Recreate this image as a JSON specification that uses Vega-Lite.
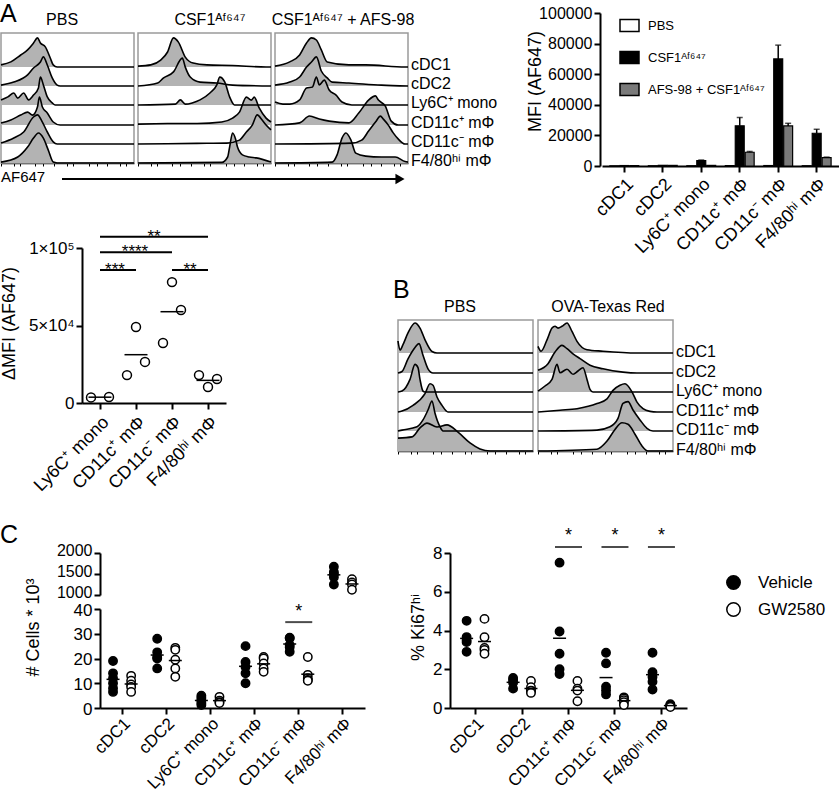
{
"$schema":"https://vega.github.io/schema/vega-lite/v6.json",
"width":839,"height":794,"autosize":{"type":"none"},"padding":0,
"config":{"view":{"stroke":null},"font":"Liberation Sans",
"axis":{"grid":false,"domainColor":"black","domainWidth":2,"tickColor":"black","tickWidth":2,"tickSize":6,"labelColor":"black","labelFontSize":17,"titleFontSize":18,"titleFontWeight":"normal","titleColor":"black","labelFont":"Liberation Sans","titleFont":"Liberation Sans"},
"legend":{"labelFont":"Liberation Sans","labelFontSize":16,"labelColor":"black"},
"text":{"font":"Liberation Sans","color":"black"}},
"datasets":{
"hist":[
{"h":"A1-1","fl":0,"n":7},{"h":"A1-1","fl":10,"n":17},{"h":"A1-1","fl":20,"n":40},{"h":"A1-1","fl":27,"n":57},{"h":"A1-1","fl":33,"n":80},{"h":"A1-1","fl":37,"n":97},{"h":"A1-1","fl":40,"n":80},{"h":"A1-1","fl":45,"n":67},{"h":"A1-1","fl":50,"n":30},{"h":"A1-1","fl":53,"n":7},{"h":"A1-1","fl":57,"n":0},{"h":"A1-1","fl":135,"n":0},
{"h":"A1-2","fl":0,"n":3},{"h":"A1-2","fl":13,"n":13},{"h":"A1-2","fl":27,"n":37},{"h":"A1-2","fl":33,"n":60},{"h":"A1-2","fl":40,"n":80},{"h":"A1-2","fl":43,"n":97},{"h":"A1-2","fl":47,"n":70},{"h":"A1-2","fl":52,"n":27},{"h":"A1-2","fl":57,"n":3},{"h":"A1-2","fl":60,"n":0},{"h":"A1-2","fl":135,"n":0},
{"h":"A1-3","fl":0,"n":17},{"h":"A1-3","fl":7,"n":27},{"h":"A1-3","fl":13,"n":40},{"h":"A1-3","fl":17,"n":23},{"h":"A1-3","fl":23,"n":40},{"h":"A1-3","fl":28,"n":17},{"h":"A1-3","fl":33,"n":33},{"h":"A1-3","fl":38,"n":57},{"h":"A1-3","fl":40,"n":93},{"h":"A1-3","fl":43,"n":67},{"h":"A1-3","fl":47,"n":27},{"h":"A1-3","fl":52,"n":7},{"h":"A1-3","fl":55,"n":0},{"h":"A1-3","fl":135,"n":0},
{"h":"A1-4","fl":0,"n":7},{"h":"A1-4","fl":10,"n":17},{"h":"A1-4","fl":20,"n":33},{"h":"A1-4","fl":27,"n":43},{"h":"A1-4","fl":32,"n":33},{"h":"A1-4","fl":37,"n":60},{"h":"A1-4","fl":39,"n":93},{"h":"A1-4","fl":42,"n":60},{"h":"A1-4","fl":47,"n":40},{"h":"A1-4","fl":53,"n":10},{"h":"A1-4","fl":60,"n":0},{"h":"A1-4","fl":135,"n":0},
{"h":"A1-5","fl":0,"n":3},{"h":"A1-5","fl":13,"n":20},{"h":"A1-5","fl":23,"n":40},{"h":"A1-5","fl":33,"n":90},{"h":"A1-5","fl":37,"n":97},{"h":"A1-5","fl":42,"n":73},{"h":"A1-5","fl":47,"n":40},{"h":"A1-5","fl":53,"n":7},{"h":"A1-5","fl":57,"n":0},{"h":"A1-5","fl":135,"n":0},
{"h":"A1-6","fl":0,"n":3},{"h":"A1-6","fl":17,"n":20},{"h":"A1-6","fl":27,"n":53},{"h":"A1-6","fl":33,"n":83},{"h":"A1-6","fl":38,"n":100},{"h":"A1-6","fl":43,"n":83},{"h":"A1-6","fl":48,"n":43},{"h":"A1-6","fl":53,"n":3},{"h":"A1-6","fl":57,"n":0},{"h":"A1-6","fl":135,"n":0},
{"h":"A2-1","fl":0,"n":3},{"h":"A2-1","fl":13,"n":7},{"h":"A2-1","fl":23,"n":23},{"h":"A2-1","fl":30,"n":50},{"h":"A2-1","fl":36,"n":97},{"h":"A2-1","fl":41,"n":83},{"h":"A2-1","fl":48,"n":33},{"h":"A2-1","fl":56,"n":13},{"h":"A2-1","fl":70,"n":7},{"h":"A2-1","fl":96,"n":5},{"h":"A2-1","fl":130,"n":0},{"h":"A2-1","fl":135,"n":0},
{"h":"A2-2","fl":0,"n":0},{"h":"A2-2","fl":20,"n":10},{"h":"A2-2","fl":26,"n":27},{"h":"A2-2","fl":36,"n":47},{"h":"A2-2","fl":45,"n":93},{"h":"A2-2","fl":48,"n":63},{"h":"A2-2","fl":53,"n":30},{"h":"A2-2","fl":63,"n":13},{"h":"A2-2","fl":80,"n":10},{"h":"A2-2","fl":96,"n":3},{"h":"A2-2","fl":135,"n":0},
{"h":"A2-3","fl":0,"n":0},{"h":"A2-3","fl":38,"n":3},{"h":"A2-3","fl":43,"n":17},{"h":"A2-3","fl":48,"n":3},{"h":"A2-3","fl":55,"n":7},{"h":"A2-3","fl":63,"n":17},{"h":"A2-3","fl":73,"n":40},{"h":"A2-3","fl":80,"n":67},{"h":"A2-3","fl":83,"n":93},{"h":"A2-3","fl":88,"n":77},{"h":"A2-3","fl":93,"n":27},{"h":"A2-3","fl":98,"n":0},{"h":"A2-3","fl":135,"n":0},
{"h":"A2-4","fl":0,"n":3},{"h":"A2-4","fl":30,"n":5},{"h":"A2-4","fl":60,"n":5},{"h":"A2-4","fl":85,"n":10},{"h":"A2-4","fl":96,"n":23},{"h":"A2-4","fl":103,"n":43},{"h":"A2-4","fl":110,"n":93},{"h":"A2-4","fl":115,"n":83},{"h":"A2-4","fl":118,"n":93},{"h":"A2-4","fl":123,"n":57},{"h":"A2-4","fl":130,"n":23},{"h":"A2-4","fl":135,"n":10},
{"h":"A2-5","fl":0,"n":0},{"h":"A2-5","fl":60,"n":2},{"h":"A2-5","fl":90,"n":3},{"h":"A2-5","fl":103,"n":13},{"h":"A2-5","fl":110,"n":40},{"h":"A2-5","fl":116,"n":63},{"h":"A2-5","fl":121,"n":97},{"h":"A2-5","fl":126,"n":80},{"h":"A2-5","fl":130,"n":63},{"h":"A2-5","fl":135,"n":47},
{"h":"A2-6","fl":0,"n":0},{"h":"A2-6","fl":85,"n":2},{"h":"A2-6","fl":91,"n":20},{"h":"A2-6","fl":93,"n":53},{"h":"A2-6","fl":96,"n":100},{"h":"A2-6","fl":99,"n":80},{"h":"A2-6","fl":101,"n":53},{"h":"A2-6","fl":106,"n":27},{"h":"A2-6","fl":113,"n":20},{"h":"A2-6","fl":120,"n":17},{"h":"A2-6","fl":135,"n":3},
{"h":"A3-1","fl":0,"n":3},{"h":"A3-1","fl":15,"n":17},{"h":"A3-1","fl":25,"n":40},{"h":"A3-1","fl":32,"n":80},{"h":"A3-1","fl":37,"n":97},{"h":"A3-1","fl":42,"n":90},{"h":"A3-1","fl":47,"n":57},{"h":"A3-1","fl":53,"n":17},{"h":"A3-1","fl":75,"n":7},{"h":"A3-1","fl":92,"n":7},{"h":"A3-1","fl":132,"n":0},{"h":"A3-1","fl":135,"n":0},
{"h":"A3-2","fl":0,"n":3},{"h":"A3-2","fl":15,"n":13},{"h":"A3-2","fl":25,"n":30},{"h":"A3-2","fl":32,"n":63},{"h":"A3-2","fl":37,"n":80},{"h":"A3-2","fl":42,"n":97},{"h":"A3-2","fl":47,"n":50},{"h":"A3-2","fl":53,"n":27},{"h":"A3-2","fl":58,"n":13},{"h":"A3-2","fl":75,"n":10},{"h":"A3-2","fl":108,"n":3},{"h":"A3-2","fl":135,"n":0},
{"h":"A3-3","fl":0,"n":10},{"h":"A3-3","fl":8,"n":3},{"h":"A3-3","fl":15,"n":3},{"h":"A3-3","fl":25,"n":17},{"h":"A3-3","fl":32,"n":57},{"h":"A3-3","fl":38,"n":60},{"h":"A3-3","fl":42,"n":93},{"h":"A3-3","fl":45,"n":67},{"h":"A3-3","fl":50,"n":83},{"h":"A3-3","fl":55,"n":50},{"h":"A3-3","fl":62,"n":33},{"h":"A3-3","fl":68,"n":10},{"h":"A3-3","fl":78,"n":0},{"h":"A3-3","fl":135,"n":0},
{"h":"A3-4","fl":0,"n":0},{"h":"A3-4","fl":25,"n":7},{"h":"A3-4","fl":35,"n":30},{"h":"A3-4","fl":45,"n":20},{"h":"A3-4","fl":55,"n":13},{"h":"A3-4","fl":75,"n":7},{"h":"A3-4","fl":85,"n":40},{"h":"A3-4","fl":95,"n":83},{"h":"A3-4","fl":102,"n":97},{"h":"A3-4","fl":105,"n":83},{"h":"A3-4","fl":112,"n":63},{"h":"A3-4","fl":118,"n":13},{"h":"A3-4","fl":125,"n":0},{"h":"A3-4","fl":135,"n":0},
{"h":"A3-5","fl":0,"n":0},{"h":"A3-5","fl":78,"n":3},{"h":"A3-5","fl":88,"n":13},{"h":"A3-5","fl":95,"n":43},{"h":"A3-5","fl":102,"n":73},{"h":"A3-5","fl":107,"n":93},{"h":"A3-5","fl":110,"n":83},{"h":"A3-5","fl":115,"n":63},{"h":"A3-5","fl":120,"n":37},{"h":"A3-5","fl":125,"n":17},{"h":"A3-5","fl":132,"n":0},{"h":"A3-5","fl":135,"n":0},
{"h":"A3-6","fl":0,"n":0},{"h":"A3-6","fl":58,"n":3},{"h":"A3-6","fl":63,"n":27},{"h":"A3-6","fl":68,"n":83},{"h":"A3-6","fl":72,"n":100},{"h":"A3-6","fl":77,"n":77},{"h":"A3-6","fl":82,"n":33},{"h":"A3-6","fl":92,"n":23},{"h":"A3-6","fl":108,"n":20},{"h":"A3-6","fl":122,"n":20},{"h":"A3-6","fl":132,"n":5},{"h":"A3-6","fl":135,"n":3},
{"h":"B1-1","fl":0,"n":40},{"h":"B1-1","fl":2,"n":10},{"h":"B1-1","fl":5,"n":28},{"h":"B1-1","fl":10,"n":67},{"h":"B1-1","fl":17,"n":100},{"h":"B1-1","fl":22,"n":83},{"h":"B1-1","fl":27,"n":44},{"h":"B1-1","fl":34,"n":5},{"h":"B1-1","fl":39,"n":0},{"h":"B1-1","fl":135,"n":0},
{"h":"B1-2","fl":0,"n":0},{"h":"B1-2","fl":4,"n":5},{"h":"B1-2","fl":10,"n":47},{"h":"B1-2","fl":17,"n":85},{"h":"B1-2","fl":21,"n":98},{"h":"B1-2","fl":25,"n":59},{"h":"B1-2","fl":30,"n":14},{"h":"B1-2","fl":35,"n":0},{"h":"B1-2","fl":135,"n":0},
{"h":"B1-3","fl":0,"n":0},{"h":"B1-3","fl":4,"n":3},{"h":"B1-3","fl":12,"n":42},{"h":"B1-3","fl":17,"n":92},{"h":"B1-3","fl":20,"n":81},{"h":"B1-3","fl":22,"n":42},{"h":"B1-3","fl":25,"n":3},{"h":"B1-3","fl":27,"n":0},{"h":"B1-3","fl":135,"n":0},
{"h":"B1-4","fl":0,"n":0},{"h":"B1-4","fl":4,"n":3},{"h":"B1-4","fl":15,"n":22},{"h":"B1-4","fl":27,"n":61},{"h":"B1-4","fl":32,"n":94},{"h":"B1-4","fl":35,"n":89},{"h":"B1-4","fl":39,"n":50},{"h":"B1-4","fl":44,"n":22},{"h":"B1-4","fl":50,"n":0},{"h":"B1-4","fl":135,"n":0},
{"h":"B1-5","fl":0,"n":0},{"h":"B1-5","fl":4,"n":3},{"h":"B1-5","fl":19,"n":14},{"h":"B1-5","fl":25,"n":37},{"h":"B1-5","fl":30,"n":70},{"h":"B1-5","fl":34,"n":100},{"h":"B1-5","fl":37,"n":59},{"h":"B1-5","fl":42,"n":14},{"h":"B1-5","fl":45,"n":0},{"h":"B1-5","fl":135,"n":0},
{"h":"B1-6","fl":0,"n":43},{"h":"B1-6","fl":14,"n":47},{"h":"B1-6","fl":22,"n":77},{"h":"B1-6","fl":29,"n":93},{"h":"B1-6","fl":39,"n":80},{"h":"B1-6","fl":49,"n":87},{"h":"B1-6","fl":60,"n":63},{"h":"B1-6","fl":72,"n":27},{"h":"B1-6","fl":82,"n":7},{"h":"B1-6","fl":92,"n":0},{"h":"B1-6","fl":135,"n":0},
{"h":"B2-1","fl":0,"n":22},{"h":"B2-1","fl":3,"n":6},{"h":"B2-1","fl":9,"n":44},{"h":"B2-1","fl":14,"n":83},{"h":"B2-1","fl":17,"n":89},{"h":"B2-1","fl":20,"n":83},{"h":"B2-1","fl":24,"n":89},{"h":"B2-1","fl":29,"n":100},{"h":"B2-1","fl":34,"n":72},{"h":"B2-1","fl":39,"n":39},{"h":"B2-1","fl":49,"n":11},{"h":"B2-1","fl":65,"n":6},{"h":"B2-1","fl":99,"n":0},{"h":"B2-1","fl":135,"n":0},
{"h":"B2-2","fl":0,"n":9},{"h":"B2-2","fl":10,"n":31},{"h":"B2-2","fl":17,"n":70},{"h":"B2-2","fl":24,"n":92},{"h":"B2-2","fl":29,"n":81},{"h":"B2-2","fl":35,"n":64},{"h":"B2-2","fl":42,"n":48},{"h":"B2-2","fl":52,"n":26},{"h":"B2-2","fl":65,"n":14},{"h":"B2-2","fl":85,"n":3},{"h":"B2-2","fl":99,"n":0},{"h":"B2-2","fl":135,"n":0},
{"h":"B2-3","fl":0,"n":3},{"h":"B2-3","fl":7,"n":20},{"h":"B2-3","fl":14,"n":42},{"h":"B2-3","fl":19,"n":92},{"h":"B2-3","fl":22,"n":64},{"h":"B2-3","fl":29,"n":76},{"h":"B2-3","fl":35,"n":59},{"h":"B2-3","fl":40,"n":70},{"h":"B2-3","fl":45,"n":81},{"h":"B2-3","fl":49,"n":42},{"h":"B2-3","fl":52,"n":9},{"h":"B2-3","fl":55,"n":0},{"h":"B2-3","fl":135,"n":0},
{"h":"B2-4","fl":0,"n":0},{"h":"B2-4","fl":22,"n":6},{"h":"B2-4","fl":39,"n":11},{"h":"B2-4","fl":59,"n":28},{"h":"B2-4","fl":69,"n":44},{"h":"B2-4","fl":75,"n":72},{"h":"B2-4","fl":82,"n":89},{"h":"B2-4","fl":87,"n":94},{"h":"B2-4","fl":94,"n":67},{"h":"B2-4","fl":99,"n":33},{"h":"B2-4","fl":105,"n":11},{"h":"B2-4","fl":112,"n":2},{"h":"B2-4","fl":119,"n":0},{"h":"B2-4","fl":135,"n":0},
{"h":"B2-5","fl":0,"n":0},{"h":"B2-5","fl":59,"n":3},{"h":"B2-5","fl":72,"n":14},{"h":"B2-5","fl":80,"n":42},{"h":"B2-5","fl":85,"n":92},{"h":"B2-5","fl":90,"n":98},{"h":"B2-5","fl":95,"n":70},{"h":"B2-5","fl":102,"n":37},{"h":"B2-5","fl":109,"n":9},{"h":"B2-5","fl":115,"n":0},{"h":"B2-5","fl":135,"n":0},
{"h":"B2-6","fl":0,"n":0},{"h":"B2-6","fl":59,"n":6},{"h":"B2-6","fl":69,"n":33},{"h":"B2-6","fl":77,"n":72},{"h":"B2-6","fl":84,"n":94},{"h":"B2-6","fl":90,"n":89},{"h":"B2-6","fl":97,"n":56},{"h":"B2-6","fl":104,"n":17},{"h":"B2-6","fl":110,"n":0},{"h":"B2-6","fl":135,"n":0}
],
"mfi":[
{"cell":"cDC1","group":"PBS","mfi":150,"upper":null},{"cell":"cDC1","group":"CSF1ᴬᶠ⁶⁴⁷","mfi":300,"upper":null},{"cell":"cDC1","group":"AFS-98 + CSF1ᴬᶠ⁶⁴⁷","mfi":250,"upper":null},
{"cell":"cDC2","group":"PBS","mfi":200,"upper":null},{"cell":"cDC2","group":"CSF1ᴬᶠ⁶⁴⁷","mfi":450,"upper":null},{"cell":"cDC2","group":"AFS-98 + CSF1ᴬᶠ⁶⁴⁷","mfi":400,"upper":null},
{"cell":"Ly6C⁺ mono","group":"PBS","mfi":200,"upper":null},{"cell":"Ly6C⁺ mono","group":"CSF1ᴬᶠ⁶⁴⁷","mfi":3500,"upper":3900},{"cell":"Ly6C⁺ mono","group":"AFS-98 + CSF1ᴬᶠ⁶⁴⁷","mfi":400,"upper":null},
{"cell":"CD11c⁺ mΦ","group":"PBS","mfi":250,"upper":null},{"cell":"CD11c⁺ mΦ","group":"CSF1ᴬᶠ⁶⁴⁷","mfi":26300,"upper":31700},{"cell":"CD11c⁺ mΦ","group":"AFS-98 + CSF1ᴬᶠ⁶⁴⁷","mfi":9000,"upper":9500},
{"cell":"CD11c⁻ mΦ","group":"PBS","mfi":300,"upper":null},{"cell":"CD11c⁻ mΦ","group":"CSF1ᴬᶠ⁶⁴⁷","mfi":70000,"upper":79000},{"cell":"CD11c⁻ mΦ","group":"AFS-98 + CSF1ᴬᶠ⁶⁴⁷","mfi":26200,"upper":27900},
{"cell":"F4/80ʰⁱ mΦ","group":"PBS","mfi":200,"upper":null},{"cell":"F4/80ʰⁱ mΦ","group":"CSF1ᴬᶠ⁶⁴⁷","mfi":21400,"upper":24000},{"cell":"F4/80ʰⁱ mΦ","group":"AFS-98 + CSF1ᴬᶠ⁶⁴⁷","mfi":5500,"upper":5800}
],
"dmfi":[
{"cell":"Ly6C⁺ mono","mouse":"1","v":3600},{"cell":"Ly6C⁺ mono","mouse":"3","v":3900},
{"cell":"CD11c⁺ mΦ","mouse":"1","v":18000},{"cell":"CD11c⁺ mΦ","mouse":"2","v":49000},{"cell":"CD11c⁺ mΦ","mouse":"3","v":26500},
{"cell":"CD11c⁻ mΦ","mouse":"1","v":38700},{"cell":"CD11c⁻ mΦ","mouse":"2","v":78000},{"cell":"CD11c⁻ mΦ","mouse":"3","v":60000},
{"cell":"F4/80ʰⁱ mΦ","mouse":"1","v":18000},{"cell":"F4/80ʰⁱ mΦ","mouse":"2","v":10300},{"cell":"F4/80ʰⁱ mΦ","mouse":"3","v":15500}
],
"cells":[
{"cell":"cDC1","trt":"Vehicle","v":19},{"cell":"cDC1","trt":"Vehicle","v":14},{"cell":"cDC1","trt":"Vehicle","v":12},{"cell":"cDC1","trt":"Vehicle","v":10},{"cell":"cDC1","trt":"Vehicle","v":8},{"cell":"cDC1","trt":"Vehicle","v":6.5},
{"cell":"cDC1","trt":"GW2580","v":13},{"cell":"cDC1","trt":"GW2580","v":11},{"cell":"cDC1","trt":"GW2580","v":9.5},{"cell":"cDC1","trt":"GW2580","v":8.5},{"cell":"cDC1","trt":"GW2580","v":6.5},
{"cell":"cDC2","trt":"Vehicle","v":28},{"cell":"cDC2","trt":"Vehicle","v":22.5},{"cell":"cDC2","trt":"Vehicle","v":20.5},{"cell":"cDC2","trt":"Vehicle","v":20},{"cell":"cDC2","trt":"Vehicle","v":16},
{"cell":"cDC2","trt":"GW2580","v":24.3},{"cell":"cDC2","trt":"GW2580","v":23.5},{"cell":"cDC2","trt":"GW2580","v":19.5},{"cell":"cDC2","trt":"GW2580","v":16},{"cell":"cDC2","trt":"GW2580","v":12.6},
{"cell":"Ly6C⁺ mono","trt":"Vehicle","v":5},{"cell":"Ly6C⁺ mono","trt":"Vehicle","v":4},{"cell":"Ly6C⁺ mono","trt":"Vehicle","v":3},{"cell":"Ly6C⁺ mono","trt":"Vehicle","v":2},{"cell":"Ly6C⁺ mono","trt":"Vehicle","v":1.2},
{"cell":"Ly6C⁺ mono","trt":"GW2580","v":4.5},{"cell":"Ly6C⁺ mono","trt":"GW2580","v":3},{"cell":"Ly6C⁺ mono","trt":"GW2580","v":2.4},{"cell":"Ly6C⁺ mono","trt":"GW2580","v":2},
{"cell":"CD11c⁺ mΦ","trt":"Vehicle","v":25},{"cell":"CD11c⁺ mΦ","trt":"Vehicle","v":18.6},{"cell":"CD11c⁺ mΦ","trt":"Vehicle","v":16.6},{"cell":"CD11c⁺ mΦ","trt":"Vehicle","v":14},{"cell":"CD11c⁺ mΦ","trt":"Vehicle","v":10},
{"cell":"CD11c⁺ mΦ","trt":"GW2580","v":20.6},{"cell":"CD11c⁺ mΦ","trt":"GW2580","v":20},{"cell":"CD11c⁺ mΦ","trt":"GW2580","v":18},{"cell":"CD11c⁺ mΦ","trt":"GW2580","v":16},{"cell":"CD11c⁺ mΦ","trt":"GW2580","v":14.6},
{"cell":"CD11c⁻ mΦ","trt":"Vehicle","v":28.4},{"cell":"CD11c⁻ mΦ","trt":"Vehicle","v":28.2},{"cell":"CD11c⁻ mΦ","trt":"Vehicle","v":25.5},{"cell":"CD11c⁻ mΦ","trt":"Vehicle","v":24.5},{"cell":"CD11c⁻ mΦ","trt":"Vehicle","v":22.7},
{"cell":"CD11c⁻ mΦ","trt":"GW2580","v":20.6},{"cell":"CD11c⁻ mΦ","trt":"GW2580","v":13.4},{"cell":"CD11c⁻ mΦ","trt":"GW2580","v":12},{"cell":"CD11c⁻ mΦ","trt":"GW2580","v":11.3},{"cell":"CD11c⁻ mΦ","trt":"GW2580","v":11},
{"cell":"F4/80ʰⁱ mΦ","trt":"Vehicle","v":1675},{"cell":"F4/80ʰⁱ mΦ","trt":"Vehicle","v":1550},{"cell":"F4/80ʰⁱ mΦ","trt":"Vehicle","v":1500},{"cell":"F4/80ʰⁱ mΦ","trt":"Vehicle","v":1425},{"cell":"F4/80ʰⁱ mΦ","trt":"Vehicle","v":1250},
{"cell":"F4/80ʰⁱ mΦ","trt":"GW2580","v":1375},{"cell":"F4/80ʰⁱ mΦ","trt":"GW2580","v":1300},{"cell":"F4/80ʰⁱ mΦ","trt":"GW2580","v":1250},{"cell":"F4/80ʰⁱ mΦ","trt":"GW2580","v":1125}
],
"ki67":[
{"cell":"cDC1","trt":"Vehicle","v":4.5},{"cell":"cDC1","trt":"Vehicle","v":3.66},{"cell":"cDC1","trt":"Vehicle","v":3.5},{"cell":"cDC1","trt":"Vehicle","v":3.4},{"cell":"cDC1","trt":"Vehicle","v":2.9},
{"cell":"cDC1","trt":"GW2580","v":4.6},{"cell":"cDC1","trt":"GW2580","v":3.65},{"cell":"cDC1","trt":"GW2580","v":3.1},{"cell":"cDC1","trt":"GW2580","v":3.0},{"cell":"cDC1","trt":"GW2580","v":2.8},
{"cell":"cDC2","trt":"Vehicle","v":1.55},{"cell":"cDC2","trt":"Vehicle","v":1.45},{"cell":"cDC2","trt":"Vehicle","v":1.3},{"cell":"cDC2","trt":"Vehicle","v":1.0},
{"cell":"cDC2","trt":"GW2580","v":1.4},{"cell":"cDC2","trt":"GW2580","v":1.07},{"cell":"cDC2","trt":"GW2580","v":0.9},{"cell":"cDC2","trt":"GW2580","v":0.88},{"cell":"cDC2","trt":"GW2580","v":0.78},
{"cell":"CD11c⁺ mΦ","trt":"Vehicle","v":7.5},{"cell":"CD11c⁺ mΦ","trt":"Vehicle","v":3.95},{"cell":"CD11c⁺ mΦ","trt":"Vehicle","v":2.8},{"cell":"CD11c⁺ mΦ","trt":"Vehicle","v":2.0},{"cell":"CD11c⁺ mΦ","trt":"Vehicle","v":1.75},
{"cell":"CD11c⁺ mΦ","trt":"GW2580","v":1.4},{"cell":"CD11c⁺ mΦ","trt":"GW2580","v":1.0},{"cell":"CD11c⁺ mΦ","trt":"GW2580","v":0.9},{"cell":"CD11c⁺ mΦ","trt":"GW2580","v":0.35},
{"cell":"CD11c⁻ mΦ","trt":"Vehicle","v":2.85},{"cell":"CD11c⁻ mΦ","trt":"Vehicle","v":2.3},{"cell":"CD11c⁻ mΦ","trt":"Vehicle","v":1.1},{"cell":"CD11c⁻ mΦ","trt":"Vehicle","v":0.9},{"cell":"CD11c⁻ mΦ","trt":"Vehicle","v":0.7},
{"cell":"CD11c⁻ mΦ","trt":"GW2580","v":0.55},{"cell":"CD11c⁻ mΦ","trt":"GW2580","v":0.5},{"cell":"CD11c⁻ mΦ","trt":"GW2580","v":0.4},{"cell":"CD11c⁻ mΦ","trt":"GW2580","v":0.3},{"cell":"CD11c⁻ mΦ","trt":"GW2580","v":0.15},
{"cell":"F4/80ʰⁱ mΦ","trt":"Vehicle","v":2.85},{"cell":"F4/80ʰⁱ mΦ","trt":"Vehicle","v":1.85},{"cell":"F4/80ʰⁱ mΦ","trt":"Vehicle","v":1.6},{"cell":"F4/80ʰⁱ mΦ","trt":"Vehicle","v":1.35},{"cell":"F4/80ʰⁱ mΦ","trt":"Vehicle","v":0.95},
{"cell":"F4/80ʰⁱ mΦ","trt":"GW2580","v":0.2},{"cell":"F4/80ʰⁱ mΦ","trt":"GW2580","v":0.15},{"cell":"F4/80ʰⁱ mΦ","trt":"GW2580","v":0.12},{"cell":"F4/80ʰⁱ mΦ","trt":"GW2580","v":0.1},{"cell":"F4/80ʰⁱ mΦ","trt":"GW2580","v":0.05}
]
},
"layer":[
{"layer":[
 {"data":{"values":[{}]},"layer":[
  {"mark":{"type":"rect","fillOpacity":0,"stroke":"#9a9a9a","strokeWidth":1.5},"encoding":{"x":{"datum":0,"type":"quantitative","scale":{"domain":[0,135],"range":[1,134],"nice":false,"zero":false},"axis":{"orient":"bottom","offset":-631,"labels":false,"title":null,"values":[0,8,13,16,19,27,35,40,43,46,54,62,67,70,73,81,89,94,97,100,108,116,121,124,127,135],"tickSize":3,"tickWidth":1,"domainWidth":1.5}},"x2":{"datum":135},"y":{"datum":0,"type":"quantitative","scale":{"domain":[0,1],"range":[163,33],"nice":false,"zero":false},"axis":null},"y2":{"datum":1}}},
  {"mark":{"type":"text","text":"PBS","fontSize":16,"baseline":"alphabetic","dy":-8},"encoding":{"x":{"datum":62,"type":"quantitative"},"y":{"datum":1,"type":"quantitative"}}},
  {"mark":{"type":"text","text":"A","fontSize":25,"align":"left","baseline":"alphabetic","dx":-1,"dy":-11},"encoding":{"x":{"datum":0,"type":"quantitative"},"y":{"datum":1,"type":"quantitative"}}},
  {"mark":{"type":"text","text":"AF647","fontSize":15,"align":"left","baseline":"middle","dy":14},"encoding":{"x":{"datum":0,"type":"quantitative"},"y":{"datum":0,"type":"quantitative"}}}
 ]},
 {"data":{"name":"hist"},"transform":[{"filter":"datum.h=='A1-1'"}],"mark":{"type":"area","interpolate":"monotone","color":"#b3b3b3"},"encoding":{"x":{"field":"fl","type":"quantitative"},"y":{"field":"n","type":"quantitative","scale":{"domain":[0,100],"range":[67,37]},"axis":null}}},
 {"data":{"name":"hist"},"transform":[{"filter":"datum.h=='A1-2'"}],"mark":{"type":"area","interpolate":"monotone","color":"#b3b3b3"},"encoding":{"x":{"field":"fl","type":"quantitative"},"y":{"field":"n","type":"quantitative","scale":{"domain":[0,100],"range":[86,56]},"axis":null}}},
 {"data":{"name":"hist"},"transform":[{"filter":"datum.h=='A1-3'"}],"mark":{"type":"area","interpolate":"monotone","color":"#b3b3b3"},"encoding":{"x":{"field":"fl","type":"quantitative"},"y":{"field":"n","type":"quantitative","scale":{"domain":[0,100],"range":[105,75]},"axis":null}}},
 {"data":{"name":"hist"},"transform":[{"filter":"datum.h=='A1-4'"}],"mark":{"type":"area","interpolate":"monotone","color":"#b3b3b3"},"encoding":{"x":{"field":"fl","type":"quantitative"},"y":{"field":"n","type":"quantitative","scale":{"domain":[0,100],"range":[125,95]},"axis":null}}},
 {"data":{"name":"hist"},"transform":[{"filter":"datum.h=='A1-5'"}],"mark":{"type":"area","interpolate":"monotone","color":"#b3b3b3"},"encoding":{"x":{"field":"fl","type":"quantitative"},"y":{"field":"n","type":"quantitative","scale":{"domain":[0,100],"range":[144,114]},"axis":null}}},
 {"data":{"name":"hist"},"transform":[{"filter":"datum.h=='A1-6'"}],"mark":{"type":"area","interpolate":"monotone","color":"#b3b3b3"},"encoding":{"x":{"field":"fl","type":"quantitative"},"y":{"field":"n","type":"quantitative","scale":{"domain":[0,100],"range":[163,133]},"axis":null}}},
 {"data":{"name":"hist"},"transform":[{"filter":"datum.h=='A1-1'"}],"mark":{"type":"line","interpolate":"monotone","color":"black","strokeWidth":1.6},"encoding":{"x":{"field":"fl","type":"quantitative"},"y":{"field":"n","type":"quantitative","scale":{"domain":[0,100],"range":[67,37]},"axis":null}}},
 {"data":{"name":"hist"},"transform":[{"filter":"datum.h=='A1-2'"}],"mark":{"type":"line","interpolate":"monotone","color":"black","strokeWidth":1.6},"encoding":{"x":{"field":"fl","type":"quantitative"},"y":{"field":"n","type":"quantitative","scale":{"domain":[0,100],"range":[86,56]},"axis":null}}},
 {"data":{"name":"hist"},"transform":[{"filter":"datum.h=='A1-3'"}],"mark":{"type":"line","interpolate":"monotone","color":"black","strokeWidth":1.6},"encoding":{"x":{"field":"fl","type":"quantitative"},"y":{"field":"n","type":"quantitative","scale":{"domain":[0,100],"range":[105,75]},"axis":null}}},
 {"data":{"name":"hist"},"transform":[{"filter":"datum.h=='A1-4'"}],"mark":{"type":"line","interpolate":"monotone","color":"black","strokeWidth":1.6},"encoding":{"x":{"field":"fl","type":"quantitative"},"y":{"field":"n","type":"quantitative","scale":{"domain":[0,100],"range":[125,95]},"axis":null}}},
 {"data":{"name":"hist"},"transform":[{"filter":"datum.h=='A1-5'"}],"mark":{"type":"line","interpolate":"monotone","color":"black","strokeWidth":1.6},"encoding":{"x":{"field":"fl","type":"quantitative"},"y":{"field":"n","type":"quantitative","scale":{"domain":[0,100],"range":[144,114]},"axis":null}}},
 {"data":{"name":"hist"},"transform":[{"filter":"datum.h=='A1-6'"}],"mark":{"type":"line","interpolate":"monotone","color":"black","strokeWidth":1.6},"encoding":{"x":{"field":"fl","type":"quantitative"},"y":{"field":"n","type":"quantitative","scale":{"domain":[0,100],"range":[163,133]},"axis":null}}}
],"resolve":{"scale":{"y":"independent"}}},
{"layer":[
 {"data":{"values":[{}]},"layer":[
  {"mark":{"type":"rect","fillOpacity":0,"stroke":"#9a9a9a","strokeWidth":1.5},"encoding":{"x":{"datum":0,"type":"quantitative","scale":{"domain":[0,135],"range":[138,271],"nice":false,"zero":false},"axis":{"orient":"bottom","offset":-631,"labels":false,"title":null,"values":[0,8,13,16,19,27,35,40,43,46,54,62,67,70,73,81,89,94,97,100,108,116,121,124,127,135],"tickSize":3,"tickWidth":1,"domainWidth":1.5}},"x2":{"datum":135},"y":{"datum":0,"type":"quantitative","scale":{"domain":[0,1],"range":[163,33],"nice":false,"zero":false},"axis":null},"y2":{"datum":1}}},
  {"mark":{"type":"text","text":"CSF1ᴬᶠ⁶⁴⁷","fontSize":16,"baseline":"alphabetic","dy":-8},"encoding":{"x":{"datum":73,"type":"quantitative"},"y":{"datum":1,"type":"quantitative"}}}
 ]},
 {"data":{"name":"hist"},"transform":[{"filter":"datum.h=='A2-1'"}],"mark":{"type":"area","interpolate":"monotone","color":"#b3b3b3"},"encoding":{"x":{"field":"fl","type":"quantitative"},"y":{"field":"n","type":"quantitative","scale":{"domain":[0,100],"range":[67,37]},"axis":null}}},
 {"data":{"name":"hist"},"transform":[{"filter":"datum.h=='A2-2'"}],"mark":{"type":"area","interpolate":"monotone","color":"#b3b3b3"},"encoding":{"x":{"field":"fl","type":"quantitative"},"y":{"field":"n","type":"quantitative","scale":{"domain":[0,100],"range":[86,56]},"axis":null}}},
 {"data":{"name":"hist"},"transform":[{"filter":"datum.h=='A2-3'"}],"mark":{"type":"area","interpolate":"monotone","color":"#b3b3b3"},"encoding":{"x":{"field":"fl","type":"quantitative"},"y":{"field":"n","type":"quantitative","scale":{"domain":[0,100],"range":[105,75]},"axis":null}}},
 {"data":{"name":"hist"},"transform":[{"filter":"datum.h=='A2-4'"}],"mark":{"type":"area","interpolate":"monotone","color":"#b3b3b3"},"encoding":{"x":{"field":"fl","type":"quantitative"},"y":{"field":"n","type":"quantitative","scale":{"domain":[0,100],"range":[125,95]},"axis":null}}},
 {"data":{"name":"hist"},"transform":[{"filter":"datum.h=='A2-5'"}],"mark":{"type":"area","interpolate":"monotone","color":"#b3b3b3"},"encoding":{"x":{"field":"fl","type":"quantitative"},"y":{"field":"n","type":"quantitative","scale":{"domain":[0,100],"range":[144,114]},"axis":null}}},
 {"data":{"name":"hist"},"transform":[{"filter":"datum.h=='A2-6'"}],"mark":{"type":"area","interpolate":"monotone","color":"#b3b3b3"},"encoding":{"x":{"field":"fl","type":"quantitative"},"y":{"field":"n","type":"quantitative","scale":{"domain":[0,100],"range":[163,133]},"axis":null}}},
 {"data":{"name":"hist"},"transform":[{"filter":"datum.h=='A2-1'"}],"mark":{"type":"line","interpolate":"monotone","color":"black","strokeWidth":1.6},"encoding":{"x":{"field":"fl","type":"quantitative"},"y":{"field":"n","type":"quantitative","scale":{"domain":[0,100],"range":[67,37]},"axis":null}}},
 {"data":{"name":"hist"},"transform":[{"filter":"datum.h=='A2-2'"}],"mark":{"type":"line","interpolate":"monotone","color":"black","strokeWidth":1.6},"encoding":{"x":{"field":"fl","type":"quantitative"},"y":{"field":"n","type":"quantitative","scale":{"domain":[0,100],"range":[86,56]},"axis":null}}},
 {"data":{"name":"hist"},"transform":[{"filter":"datum.h=='A2-3'"}],"mark":{"type":"line","interpolate":"monotone","color":"black","strokeWidth":1.6},"encoding":{"x":{"field":"fl","type":"quantitative"},"y":{"field":"n","type":"quantitative","scale":{"domain":[0,100],"range":[105,75]},"axis":null}}},
 {"data":{"name":"hist"},"transform":[{"filter":"datum.h=='A2-4'"}],"mark":{"type":"line","interpolate":"monotone","color":"black","strokeWidth":1.6},"encoding":{"x":{"field":"fl","type":"quantitative"},"y":{"field":"n","type":"quantitative","scale":{"domain":[0,100],"range":[125,95]},"axis":null}}},
 {"data":{"name":"hist"},"transform":[{"filter":"datum.h=='A2-5'"}],"mark":{"type":"line","interpolate":"monotone","color":"black","strokeWidth":1.6},"encoding":{"x":{"field":"fl","type":"quantitative"},"y":{"field":"n","type":"quantitative","scale":{"domain":[0,100],"range":[144,114]},"axis":null}}},
 {"data":{"name":"hist"},"transform":[{"filter":"datum.h=='A2-6'"}],"mark":{"type":"line","interpolate":"monotone","color":"black","strokeWidth":1.6},"encoding":{"x":{"field":"fl","type":"quantitative"},"y":{"field":"n","type":"quantitative","scale":{"domain":[0,100],"range":[163,133]},"axis":null}}}
],"resolve":{"scale":{"y":"independent"}}},
{"layer":[
 {"data":{"values":[{}]},"layer":[
  {"mark":{"type":"rect","fillOpacity":0,"stroke":"#9a9a9a","strokeWidth":1.5},"encoding":{"x":{"datum":0,"type":"quantitative","scale":{"domain":[0,135],"range":[275,408],"nice":false,"zero":false},"axis":{"orient":"bottom","offset":-631,"labels":false,"title":null,"values":[0,8,13,16,19,27,35,40,43,46,54,62,67,70,73,81,89,94,97,100,108,116,121,124,127,135],"tickSize":3,"tickWidth":1,"domainWidth":1.5}},"x2":{"datum":135},"y":{"datum":0,"type":"quantitative","scale":{"domain":[0,1],"range":[163,33],"nice":false,"zero":false},"axis":null},"y2":{"datum":1}}},
  {"mark":{"type":"text","text":"CSF1ᴬᶠ⁶⁴⁷ + AFS-98","fontSize":16,"baseline":"alphabetic","dy":-8},"encoding":{"x":{"datum":69,"type":"quantitative"},"y":{"datum":1,"type":"quantitative"}}}
 ]},
 {"data":{"name":"hist"},"transform":[{"filter":"datum.h=='A3-1'"}],"mark":{"type":"area","interpolate":"monotone","color":"#b3b3b3"},"encoding":{"x":{"field":"fl","type":"quantitative"},"y":{"field":"n","type":"quantitative","scale":{"domain":[0,100],"range":[67,37]},"axis":null}}},
 {"data":{"name":"hist"},"transform":[{"filter":"datum.h=='A3-2'"}],"mark":{"type":"area","interpolate":"monotone","color":"#b3b3b3"},"encoding":{"x":{"field":"fl","type":"quantitative"},"y":{"field":"n","type":"quantitative","scale":{"domain":[0,100],"range":[86,56]},"axis":null}}},
 {"data":{"name":"hist"},"transform":[{"filter":"datum.h=='A3-3'"}],"mark":{"type":"area","interpolate":"monotone","color":"#b3b3b3"},"encoding":{"x":{"field":"fl","type":"quantitative"},"y":{"field":"n","type":"quantitative","scale":{"domain":[0,100],"range":[105,75]},"axis":null}}},
 {"data":{"name":"hist"},"transform":[{"filter":"datum.h=='A3-4'"}],"mark":{"type":"area","interpolate":"monotone","color":"#b3b3b3"},"encoding":{"x":{"field":"fl","type":"quantitative"},"y":{"field":"n","type":"quantitative","scale":{"domain":[0,100],"range":[125,95]},"axis":null}}},
 {"data":{"name":"hist"},"transform":[{"filter":"datum.h=='A3-5'"}],"mark":{"type":"area","interpolate":"monotone","color":"#b3b3b3"},"encoding":{"x":{"field":"fl","type":"quantitative"},"y":{"field":"n","type":"quantitative","scale":{"domain":[0,100],"range":[144,114]},"axis":null}}},
 {"data":{"name":"hist"},"transform":[{"filter":"datum.h=='A3-6'"}],"mark":{"type":"area","interpolate":"monotone","color":"#b3b3b3"},"encoding":{"x":{"field":"fl","type":"quantitative"},"y":{"field":"n","type":"quantitative","scale":{"domain":[0,100],"range":[163,133]},"axis":null}}},
 {"data":{"name":"hist"},"transform":[{"filter":"datum.h=='A3-1'"}],"mark":{"type":"line","interpolate":"monotone","color":"black","strokeWidth":1.6},"encoding":{"x":{"field":"fl","type":"quantitative"},"y":{"field":"n","type":"quantitative","scale":{"domain":[0,100],"range":[67,37]},"axis":null}}},
 {"data":{"name":"hist"},"transform":[{"filter":"datum.h=='A3-2'"}],"mark":{"type":"line","interpolate":"monotone","color":"black","strokeWidth":1.6},"encoding":{"x":{"field":"fl","type":"quantitative"},"y":{"field":"n","type":"quantitative","scale":{"domain":[0,100],"range":[86,56]},"axis":null}}},
 {"data":{"name":"hist"},"transform":[{"filter":"datum.h=='A3-3'"}],"mark":{"type":"line","interpolate":"monotone","color":"black","strokeWidth":1.6},"encoding":{"x":{"field":"fl","type":"quantitative"},"y":{"field":"n","type":"quantitative","scale":{"domain":[0,100],"range":[105,75]},"axis":null}}},
 {"data":{"name":"hist"},"transform":[{"filter":"datum.h=='A3-4'"}],"mark":{"type":"line","interpolate":"monotone","color":"black","strokeWidth":1.6},"encoding":{"x":{"field":"fl","type":"quantitative"},"y":{"field":"n","type":"quantitative","scale":{"domain":[0,100],"range":[125,95]},"axis":null}}},
 {"data":{"name":"hist"},"transform":[{"filter":"datum.h=='A3-5'"}],"mark":{"type":"line","interpolate":"monotone","color":"black","strokeWidth":1.6},"encoding":{"x":{"field":"fl","type":"quantitative"},"y":{"field":"n","type":"quantitative","scale":{"domain":[0,100],"range":[144,114]},"axis":null}}},
 {"data":{"name":"hist"},"transform":[{"filter":"datum.h=='A3-6'"}],"mark":{"type":"line","interpolate":"monotone","color":"black","strokeWidth":1.6},"encoding":{"x":{"field":"fl","type":"quantitative"},"y":{"field":"n","type":"quantitative","scale":{"domain":[0,100],"range":[163,133]},"axis":null}}},
 {"data":{"values":[{"cell":"cDC1"},{"cell":"cDC2"},{"cell":"Ly6C⁺ mono"},{"cell":"CD11c⁺ mΦ"},{"cell":"CD11c⁻ mΦ"},{"cell":"F4/80ʰⁱ mΦ"}]},"mark":{"type":"text","align":"left","baseline":"middle","dx":3,"fontSize":16},"encoding":{"x":{"datum":135,"type":"quantitative"},"y":{"field":"cell","type":"nominal","sort":null,"scale":{"type":"point","range":[65,161],"padding":0},"axis":null},"text":{"field":"cell"}}}
],"resolve":{"scale":{"y":"independent"}}},
{"data":{"values":[{}]},"layer":[
 {"mark":{"type":"rule","strokeWidth":2,"color":"black"},"encoding":{"x":{"datum":0,"type":"quantitative","scale":{"domain":[0,1],"range":[62,400],"nice":false,"zero":false},"axis":null},"x2":{"datum":1},"y":{"datum":0,"type":"quantitative","scale":{"domain":[0,1],"range":[179,0],"nice":false,"zero":false},"axis":null}}},
 {"mark":{"type":"point","shape":"triangle-right","filled":true,"color":"black","size":110,"opacity":1},"encoding":{"x":{"datum":1,"type":"quantitative"},"y":{"datum":0,"type":"quantitative"}}}
]},
{"data":{"name":"mfi"},
 "encoding":{
  "x":{"field":"cell","type":"nominal","scale":{"domain":["cDC1","cDC2","Ly6C⁺ mono","CD11c⁺ mΦ","CD11c⁻ mΦ","F4/80ʰⁱ mΦ"],"range":[602,839],"paddingInner":0,"paddingOuter":0.08},"axis":{"orient":"bottom","offset":-628,"title":null,"labelAngle":-45,"labelFontSize":18,"labelPadding":3}},
  "xOffset":{"field":"group","type":"nominal","scale":{"domain":["PBS","CSF1ᴬᶠ⁶⁴⁷","AFS-98 + CSF1ᴬᶠ⁶⁴⁷"],"paddingOuter":0.485,"paddingInner":0.1}}
 },
 "layer":[
  {"mark":{"type":"bar","stroke":"black","strokeWidth":1.2},"encoding":{
   "y":{"field":"mfi","type":"quantitative","scale":{"domain":[0,100000],"range":[166,13],"nice":false},"axis":{"orient":"left","offset":-600,"values":[0,20000,40000,60000,80000,100000],"format":"d","labelFontSize":16,"title":"MFI (AF647)","titleX":-65,"titleY":81,"titleBaseline":"middle"}},
   "fill":{"field":"group","type":"nominal","scale":{"domain":["PBS","CSF1ᴬᶠ⁶⁴⁷","AFS-98 + CSF1ᴬᶠ⁶⁴⁷"],"range":["white","black","#7a7a7a"]},"legend":{"orient":"none","legendX":619,"legendY":15,"title":null,"symbolType":"M-1,-0.63H1V0.63H-1Z","symbolSize":361,"symbolStrokeColor":"black","symbolStrokeWidth":1.5,"labelFontSize":13,"labelLimit":300,"rowPadding":12,"labelOffset":8,"padding":0}}}},
  {"transform":[{"filter":"datum.upper != null"}],"mark":{"type":"rule","strokeWidth":1.5,"color":"black"},"encoding":{"y":{"field":"mfi","type":"quantitative","scale":{"domain":[0,100000],"range":[166,13],"nice":false}},"y2":{"field":"upper"}}},
  {"transform":[{"filter":"datum.upper != null"}],"mark":{"type":"tick","thickness":1.5,"size":6,"color":"black"},"encoding":{"y":{"field":"upper","type":"quantitative","scale":{"domain":[0,100000],"range":[166,13],"nice":false}}}}
 ]},
{"encoding":{"x":{"field":"cell","type":"nominal","scale":{"domain":["Ly6C⁺ mono","CD11c⁺ mΦ","CD11c⁻ mΦ","F4/80ʰⁱ mΦ"],"range":[82,226],"paddingInner":0,"paddingOuter":0},"axis":{"orient":"bottom","offset":-391,"title":null,"labelAngle":-45,"labelFontSize":18,"labelPadding":4}}},
 "layer":[
  {"data":{"name":"dmfi"},"mark":{"type":"point","shape":"circle","filled":true,"fill":"white","stroke":"black","strokeWidth":1.5,"size":80,"opacity":1},"encoding":{
   "xOffset":{"field":"mouse","type":"nominal","scale":{"domain":["1","2","3"],"paddingOuter":2.1,"paddingInner":0}},
   "y":{"field":"v","type":"quantitative","scale":{"domain":[0,100000],"range":[403,248],"nice":false},"axis":{"orient":"left","offset":-82,"values":[0,50000,100000],"labelExpr":"datum.value == 0 ? '0' : (datum.value == 50000 ? '5×10⁴' : '1×10⁵')","title":"ΔMFI (AF647)","titleX":-73,"titleY":323,"titleBaseline":"middle"}}}},
  {"data":{"name":"dmfi"},"mark":{"type":"tick","thickness":1.5,"size":23,"color":"black"},"encoding":{"y":{"aggregate":"mean","field":"v","type":"quantitative","scale":{"domain":[0,100000],"range":[403,248],"nice":false}}}},
  {"data":{"values":[{"from":"Ly6C⁺ mono","to":"F4/80ʰⁱ mΦ","y":107300},{"from":"Ly6C⁺ mono","to":"CD11c⁻ mΦ","y":97200},{"from":"Ly6C⁺ mono","to":"CD11c⁺ mΦ","y":85800},{"from":"CD11c⁻ mΦ","to":"F4/80ʰⁱ mΦ","y":85800}]},"mark":{"type":"rule","strokeWidth":2,"color":"black"},"encoding":{"x":{"field":"from","type":"nominal"},"x2":{"field":"to"},"y":{"field":"y","type":"quantitative","scale":{"domain":[0,100000],"range":[403,248],"nice":false}}}},
  {"data":{"values":[{}]},"mark":{"type":"text","text":"**","fontSize":17,"baseline":"alphabetic","dx":18,"dy":5},"encoding":{"x":{"datum":"CD11c⁺ mΦ","type":"nominal"},"y":{"datum":107300,"type":"quantitative","scale":{"domain":[0,100000],"range":[403,248],"nice":false}}}},
  {"data":{"values":[{}]},"mark":{"type":"text","text":"****","fontSize":17,"baseline":"alphabetic","dx":-1,"dy":5},"encoding":{"x":{"datum":"CD11c⁺ mΦ","type":"nominal"},"y":{"datum":97200,"type":"quantitative","scale":{"domain":[0,100000],"range":[403,248],"nice":false}}}},
  {"data":{"values":[{}]},"mark":{"type":"text","text":"***","fontSize":17,"baseline":"alphabetic","dx":15,"dy":5},"encoding":{"x":{"datum":"Ly6C⁺ mono","type":"nominal"},"y":{"datum":85800,"type":"quantitative","scale":{"domain":[0,100000],"range":[403,248],"nice":false}}}},
  {"data":{"values":[{}]},"mark":{"type":"text","text":"**","fontSize":17,"baseline":"alphabetic","dx":18,"dy":5},"encoding":{"x":{"datum":"CD11c⁻ mΦ","type":"nominal"},"y":{"datum":85800,"type":"quantitative","scale":{"domain":[0,100000],"range":[403,248],"nice":false}}}}
 ]},
{"layer":[
 {"data":{"values":[{}]},"layer":[
  {"mark":{"type":"rect","fillOpacity":0,"stroke":"#9a9a9a","strokeWidth":1.5},"encoding":{"x":{"datum":0,"type":"quantitative","scale":{"domain":[0,135],"range":[398,533],"nice":false,"zero":false},"axis":{"orient":"bottom","offset":-343,"labels":false,"title":null,"values":[0,8,13,16,19,27,35,40,43,46,54,62,67,70,73,81,89,94,97,100,108,116,121,124,127,135],"tickSize":3,"tickWidth":1,"domainWidth":1.5}},"x2":{"datum":135},"y":{"datum":0,"type":"quantitative","scale":{"domain":[0,1],"range":[451,320],"nice":false,"zero":false},"axis":null},"y2":{"datum":1}}},
  {"mark":{"type":"text","text":"PBS","fontSize":16,"baseline":"alphabetic","dy":-8},"encoding":{"x":{"datum":62,"type":"quantitative"},"y":{"datum":1,"type":"quantitative"}}},
  {"mark":{"type":"text","text":"B","fontSize":25,"align":"left","baseline":"alphabetic","dx":-5,"dy":-22},"encoding":{"x":{"datum":0,"type":"quantitative"},"y":{"datum":1,"type":"quantitative"}}}
 ]},
 {"data":{"name":"hist"},"transform":[{"filter":"datum.h=='B1-1'"}],"mark":{"type":"area","interpolate":"monotone","color":"#b3b3b3"},"encoding":{"x":{"field":"fl","type":"quantitative"},"y":{"field":"n","type":"quantitative","scale":{"domain":[0,100],"range":[353,323]},"axis":null}}},
 {"data":{"name":"hist"},"transform":[{"filter":"datum.h=='B1-2'"}],"mark":{"type":"area","interpolate":"monotone","color":"#b3b3b3"},"encoding":{"x":{"field":"fl","type":"quantitative"},"y":{"field":"n","type":"quantitative","scale":{"domain":[0,100],"range":[373,343]},"axis":null}}},
 {"data":{"name":"hist"},"transform":[{"filter":"datum.h=='B1-3'"}],"mark":{"type":"area","interpolate":"monotone","color":"#b3b3b3"},"encoding":{"x":{"field":"fl","type":"quantitative"},"y":{"field":"n","type":"quantitative","scale":{"domain":[0,100],"range":[392,362]},"axis":null}}},
 {"data":{"name":"hist"},"transform":[{"filter":"datum.h=='B1-4'"}],"mark":{"type":"area","interpolate":"monotone","color":"#b3b3b3"},"encoding":{"x":{"field":"fl","type":"quantitative"},"y":{"field":"n","type":"quantitative","scale":{"domain":[0,100],"range":[412,382]},"axis":null}}},
 {"data":{"name":"hist"},"transform":[{"filter":"datum.h=='B1-5'"}],"mark":{"type":"area","interpolate":"monotone","color":"#b3b3b3"},"encoding":{"x":{"field":"fl","type":"quantitative"},"y":{"field":"n","type":"quantitative","scale":{"domain":[0,100],"range":[431,401]},"axis":null}}},
 {"data":{"name":"hist"},"transform":[{"filter":"datum.h=='B1-6'"}],"mark":{"type":"area","interpolate":"monotone","color":"#b3b3b3"},"encoding":{"x":{"field":"fl","type":"quantitative"},"y":{"field":"n","type":"quantitative","scale":{"domain":[0,100],"range":[451,421]},"axis":null}}},
 {"data":{"name":"hist"},"transform":[{"filter":"datum.h=='B1-1'"}],"mark":{"type":"line","interpolate":"monotone","color":"black","strokeWidth":1.6},"encoding":{"x":{"field":"fl","type":"quantitative"},"y":{"field":"n","type":"quantitative","scale":{"domain":[0,100],"range":[353,323]},"axis":null}}},
 {"data":{"name":"hist"},"transform":[{"filter":"datum.h=='B1-2'"}],"mark":{"type":"line","interpolate":"monotone","color":"black","strokeWidth":1.6},"encoding":{"x":{"field":"fl","type":"quantitative"},"y":{"field":"n","type":"quantitative","scale":{"domain":[0,100],"range":[373,343]},"axis":null}}},
 {"data":{"name":"hist"},"transform":[{"filter":"datum.h=='B1-3'"}],"mark":{"type":"line","interpolate":"monotone","color":"black","strokeWidth":1.6},"encoding":{"x":{"field":"fl","type":"quantitative"},"y":{"field":"n","type":"quantitative","scale":{"domain":[0,100],"range":[392,362]},"axis":null}}},
 {"data":{"name":"hist"},"transform":[{"filter":"datum.h=='B1-4'"}],"mark":{"type":"line","interpolate":"monotone","color":"black","strokeWidth":1.6},"encoding":{"x":{"field":"fl","type":"quantitative"},"y":{"field":"n","type":"quantitative","scale":{"domain":[0,100],"range":[412,382]},"axis":null}}},
 {"data":{"name":"hist"},"transform":[{"filter":"datum.h=='B1-5'"}],"mark":{"type":"line","interpolate":"monotone","color":"black","strokeWidth":1.6},"encoding":{"x":{"field":"fl","type":"quantitative"},"y":{"field":"n","type":"quantitative","scale":{"domain":[0,100],"range":[431,401]},"axis":null}}},
 {"data":{"name":"hist"},"transform":[{"filter":"datum.h=='B1-6'"}],"mark":{"type":"line","interpolate":"monotone","color":"black","strokeWidth":1.6},"encoding":{"x":{"field":"fl","type":"quantitative"},"y":{"field":"n","type":"quantitative","scale":{"domain":[0,100],"range":[451,421]},"axis":null}}}
],"resolve":{"scale":{"y":"independent"}}},
{"layer":[
 {"data":{"values":[{}]},"layer":[
  {"mark":{"type":"rect","fillOpacity":0,"stroke":"#9a9a9a","strokeWidth":1.5},"encoding":{"x":{"datum":0,"type":"quantitative","scale":{"domain":[0,135],"range":[538,673],"nice":false,"zero":false},"axis":{"orient":"bottom","offset":-343,"labels":false,"title":null,"values":[0,8,13,16,19,27,35,40,43,46,54,62,67,70,73,81,89,94,97,100,108,116,121,124,127,135],"tickSize":3,"tickWidth":1,"domainWidth":1.5}},"x2":{"datum":135},"y":{"datum":0,"type":"quantitative","scale":{"domain":[0,1],"range":[451,320],"nice":false,"zero":false},"axis":null},"y2":{"datum":1}}},
  {"mark":{"type":"text","text":"OVA-Texas Red","fontSize":16,"baseline":"alphabetic","dy":-8},"encoding":{"x":{"datum":70,"type":"quantitative"},"y":{"datum":1,"type":"quantitative"}}}
 ]},
 {"data":{"name":"hist"},"transform":[{"filter":"datum.h=='B2-1'"}],"mark":{"type":"area","interpolate":"monotone","color":"#b3b3b3"},"encoding":{"x":{"field":"fl","type":"quantitative"},"y":{"field":"n","type":"quantitative","scale":{"domain":[0,100],"range":[353,323]},"axis":null}}},
 {"data":{"name":"hist"},"transform":[{"filter":"datum.h=='B2-2'"}],"mark":{"type":"area","interpolate":"monotone","color":"#b3b3b3"},"encoding":{"x":{"field":"fl","type":"quantitative"},"y":{"field":"n","type":"quantitative","scale":{"domain":[0,100],"range":[373,343]},"axis":null}}},
 {"data":{"name":"hist"},"transform":[{"filter":"datum.h=='B2-3'"}],"mark":{"type":"area","interpolate":"monotone","color":"#b3b3b3"},"encoding":{"x":{"field":"fl","type":"quantitative"},"y":{"field":"n","type":"quantitative","scale":{"domain":[0,100],"range":[392,362]},"axis":null}}},
 {"data":{"name":"hist"},"transform":[{"filter":"datum.h=='B2-4'"}],"mark":{"type":"area","interpolate":"monotone","color":"#b3b3b3"},"encoding":{"x":{"field":"fl","type":"quantitative"},"y":{"field":"n","type":"quantitative","scale":{"domain":[0,100],"range":[412,382]},"axis":null}}},
 {"data":{"name":"hist"},"transform":[{"filter":"datum.h=='B2-5'"}],"mark":{"type":"area","interpolate":"monotone","color":"#b3b3b3"},"encoding":{"x":{"field":"fl","type":"quantitative"},"y":{"field":"n","type":"quantitative","scale":{"domain":[0,100],"range":[431,401]},"axis":null}}},
 {"data":{"name":"hist"},"transform":[{"filter":"datum.h=='B2-6'"}],"mark":{"type":"area","interpolate":"monotone","color":"#b3b3b3"},"encoding":{"x":{"field":"fl","type":"quantitative"},"y":{"field":"n","type":"quantitative","scale":{"domain":[0,100],"range":[451,421]},"axis":null}}},
 {"data":{"name":"hist"},"transform":[{"filter":"datum.h=='B2-1'"}],"mark":{"type":"line","interpolate":"monotone","color":"black","strokeWidth":1.6},"encoding":{"x":{"field":"fl","type":"quantitative"},"y":{"field":"n","type":"quantitative","scale":{"domain":[0,100],"range":[353,323]},"axis":null}}},
 {"data":{"name":"hist"},"transform":[{"filter":"datum.h=='B2-2'"}],"mark":{"type":"line","interpolate":"monotone","color":"black","strokeWidth":1.6},"encoding":{"x":{"field":"fl","type":"quantitative"},"y":{"field":"n","type":"quantitative","scale":{"domain":[0,100],"range":[373,343]},"axis":null}}},
 {"data":{"name":"hist"},"transform":[{"filter":"datum.h=='B2-3'"}],"mark":{"type":"line","interpolate":"monotone","color":"black","strokeWidth":1.6},"encoding":{"x":{"field":"fl","type":"quantitative"},"y":{"field":"n","type":"quantitative","scale":{"domain":[0,100],"range":[392,362]},"axis":null}}},
 {"data":{"name":"hist"},"transform":[{"filter":"datum.h=='B2-4'"}],"mark":{"type":"line","interpolate":"monotone","color":"black","strokeWidth":1.6},"encoding":{"x":{"field":"fl","type":"quantitative"},"y":{"field":"n","type":"quantitative","scale":{"domain":[0,100],"range":[412,382]},"axis":null}}},
 {"data":{"name":"hist"},"transform":[{"filter":"datum.h=='B2-5'"}],"mark":{"type":"line","interpolate":"monotone","color":"black","strokeWidth":1.6},"encoding":{"x":{"field":"fl","type":"quantitative"},"y":{"field":"n","type":"quantitative","scale":{"domain":[0,100],"range":[431,401]},"axis":null}}},
 {"data":{"name":"hist"},"transform":[{"filter":"datum.h=='B2-6'"}],"mark":{"type":"line","interpolate":"monotone","color":"black","strokeWidth":1.6},"encoding":{"x":{"field":"fl","type":"quantitative"},"y":{"field":"n","type":"quantitative","scale":{"domain":[0,100],"range":[451,421]},"axis":null}}},
 {"data":{"values":[{"cell":"cDC1"},{"cell":"cDC2"},{"cell":"Ly6C⁺ mono"},{"cell":"CD11c⁺ mΦ"},{"cell":"CD11c⁻ mΦ"},{"cell":"F4/80ʰⁱ mΦ"}]},"mark":{"type":"text","align":"left","baseline":"middle","dx":3,"fontSize":16},"encoding":{"x":{"datum":135,"type":"quantitative"},"y":{"field":"cell","type":"nominal","sort":null,"scale":{"type":"point","range":[352,450],"padding":0},"axis":null},"text":{"field":"cell"}}}
],"resolve":{"scale":{"y":"independent"}}},
{"encoding":{"x":{"field":"cell","type":"nominal","scale":{"domain":["cDC1","cDC2","Ly6C⁺ mono","CD11c⁺ mΦ","CD11c⁻ mΦ","F4/80ʰⁱ mΦ"],"range":[100,365],"paddingInner":0,"paddingOuter":0},"axis":{"orient":"bottom","offset":-86,"title":null,"labelAngle":-45,"labelFontSize":17,"labelPadding":1}}},
 "layer":[
  {"layer":[
   {"data":{"name":"cells"},"transform":[{"filter":"datum.v < 100"}],"mark":{"type":"point","shape":"circle","filled":true,"stroke":"black","strokeWidth":1.5,"size":70,"opacity":1},"encoding":{
    "xOffset":{"field":"trt","type":"nominal","scale":{"domain":["Vehicle","GW2580"],"paddingOuter":0.22,"paddingInner":0}},
    "y":{"field":"v","type":"quantitative","scale":{"domain":[0,40],"range":[708,609],"nice":false},"axis":{"orient":"left","offset":-100,"values":[0,10,20,30,40],"format":"d","title":"# Cells * 10³","titleX":-67,"titleY":627,"titleBaseline":"middle","labelFontSize":17,"labelOffset":1}},
    "fill":{"field":"trt","type":"nominal","scale":{"domain":["Vehicle","GW2580"],"range":["black","white"]},"legend":null}}},
   {"data":{"name":"cells"},"transform":[{"filter":"datum.v < 100"}],"mark":{"type":"tick","thickness":1.5,"size":13,"color":"black"},"encoding":{
    "xOffset":{"field":"trt","type":"nominal","scale":{"domain":["Vehicle","GW2580"],"paddingOuter":0.22,"paddingInner":0}},
    "y":{"aggregate":"mean","field":"v","type":"quantitative","scale":{"domain":[0,40],"range":[708,609],"nice":false}}}},
   {"data":{"values":[{"cell":"CD11c⁻ mΦ","y":34.7}]},"mark":{"type":"tick","thickness":2,"size":27,"color":"black"},"encoding":{"y":{"field":"y","type":"quantitative","scale":{"domain":[0,40],"range":[708,609],"nice":false}}}},
   {"data":{"values":[{"cell":"CD11c⁻ mΦ","y":34.7}]},"mark":{"type":"text","text":"*","fontSize":18,"baseline":"alphabetic","dy":-5},"encoding":{"y":{"field":"y","type":"quantitative","scale":{"domain":[0,40],"range":[708,609],"nice":false}}}}
  ]},
  {"layer":[
   {"data":{"name":"cells"},"transform":[{"filter":"datum.v >= 100"}],"mark":{"type":"point","shape":"circle","filled":true,"stroke":"black","strokeWidth":1.5,"size":70,"opacity":1},"encoding":{
    "xOffset":{"field":"trt","type":"nominal","scale":{"domain":["Vehicle","GW2580"],"paddingOuter":0.22,"paddingInner":0}},
    "y":{"field":"v","type":"quantitative","scale":{"domain":[1000,2000],"range":[595,553],"nice":false,"zero":false},"axis":{"orient":"left","offset":-100,"values":[1000,1500,2000],"format":"d","title":null,"labelFontSize":16,"labelOffset":-3}},
    "fill":{"field":"trt","type":"nominal","scale":{"domain":["Vehicle","GW2580"],"range":["black","white"]},"legend":null}}},
   {"data":{"name":"cells"},"transform":[{"filter":"datum.v >= 100"}],"mark":{"type":"tick","thickness":1.5,"size":13,"color":"black"},"encoding":{
    "xOffset":{"field":"trt","type":"nominal","scale":{"domain":["Vehicle","GW2580"],"paddingOuter":0.22,"paddingInner":0}},
    "y":{"aggregate":"mean","field":"v","type":"quantitative","scale":{"domain":[1000,2000],"range":[595,553],"nice":false,"zero":false}}}},
   {"data":{"values":[{}]},"mark":{"type":"text","text":"C","fontSize":25,"align":"left","baseline":"alphabetic","dx":-122,"dy":-10},"encoding":{"x":{"datum":"cDC1","type":"nominal"},"y":{"datum":2000,"type":"quantitative","scale":{"domain":[1000,2000],"range":[595,553],"nice":false,"zero":false}}}}
  ]}
 ],"resolve":{"scale":{"y":"independent"}}},
{"encoding":{"x":{"field":"cell","type":"nominal","scale":{"domain":["cDC1","cDC2","CD11c⁺ mΦ","CD11c⁻ mΦ","F4/80ʰⁱ mΦ"],"range":[450,687],"paddingInner":0,"paddingOuter":0.05},"axis":{"orient":"bottom","offset":-86,"title":null,"labelAngle":-45,"labelFontSize":17,"labelPadding":1}}},
 "layer":[
  {"data":{"name":"ki67"},"mark":{"type":"point","shape":"circle","filled":true,"stroke":"black","strokeWidth":1.5,"size":70,"opacity":1},"encoding":{
   "xOffset":{"field":"trt","type":"nominal","scale":{"domain":["Vehicle","GW2580"],"paddingOuter":0.3,"paddingInner":0}},
   "y":{"field":"v","type":"quantitative","scale":{"domain":[0,8],"range":[708,553],"nice":false},"axis":{"orient":"left","offset":-450,"values":[0,2,4,6,8],"format":"d","title":"% Ki67ʰⁱ","titleX":-32,"titleY":627,"titleBaseline":"middle","labelFontSize":17}},
   "fill":{"field":"trt","type":"nominal","scale":{"domain":["Vehicle","GW2580"],"range":["black","white"]},"legend":{"orient":"none","legendX":725,"legendY":574,"title":null,"symbolType":"circle","symbolSize":180,"symbolStrokeColor":"black","symbolStrokeWidth":1.5,"labelFontSize":17,"rowPadding":6,"labelOffset":16,"padding":0}}}},
  {"data":{"name":"ki67"},"mark":{"type":"tick","thickness":1.5,"size":13,"color":"black"},"encoding":{
   "xOffset":{"field":"trt","type":"nominal","scale":{"domain":["Vehicle","GW2580"],"paddingOuter":0.3,"paddingInner":0}},
   "y":{"aggregate":"mean","field":"v","type":"quantitative","scale":{"domain":[0,8],"range":[708,553],"nice":false}}}},
  {"data":{"values":[{"cell":"CD11c⁺ mΦ","y":8.31},{"cell":"CD11c⁻ mΦ","y":8.31},{"cell":"F4/80ʰⁱ mΦ","y":8.31}]},"mark":{"type":"tick","thickness":2,"size":27,"color":"black"},"encoding":{"y":{"field":"y","type":"quantitative","scale":{"domain":[0,8],"range":[708,553],"nice":false}}}},
  {"data":{"values":[{"cell":"CD11c⁺ mΦ","y":8.31},{"cell":"CD11c⁻ mΦ","y":8.31},{"cell":"F4/80ʰⁱ mΦ","y":8.31}]},"mark":{"type":"text","text":"*","fontSize":18,"baseline":"alphabetic","dy":-6},"encoding":{"y":{"field":"y","type":"quantitative","scale":{"domain":[0,8],"range":[708,553],"nice":false}}}}
 ]}
],
"resolve":{"scale":{"x":"independent","y":"independent","xOffset":"independent","fill":"independent"},"axis":{"x":"independent","y":"independent"},"legend":{"fill":"independent"}}
}
